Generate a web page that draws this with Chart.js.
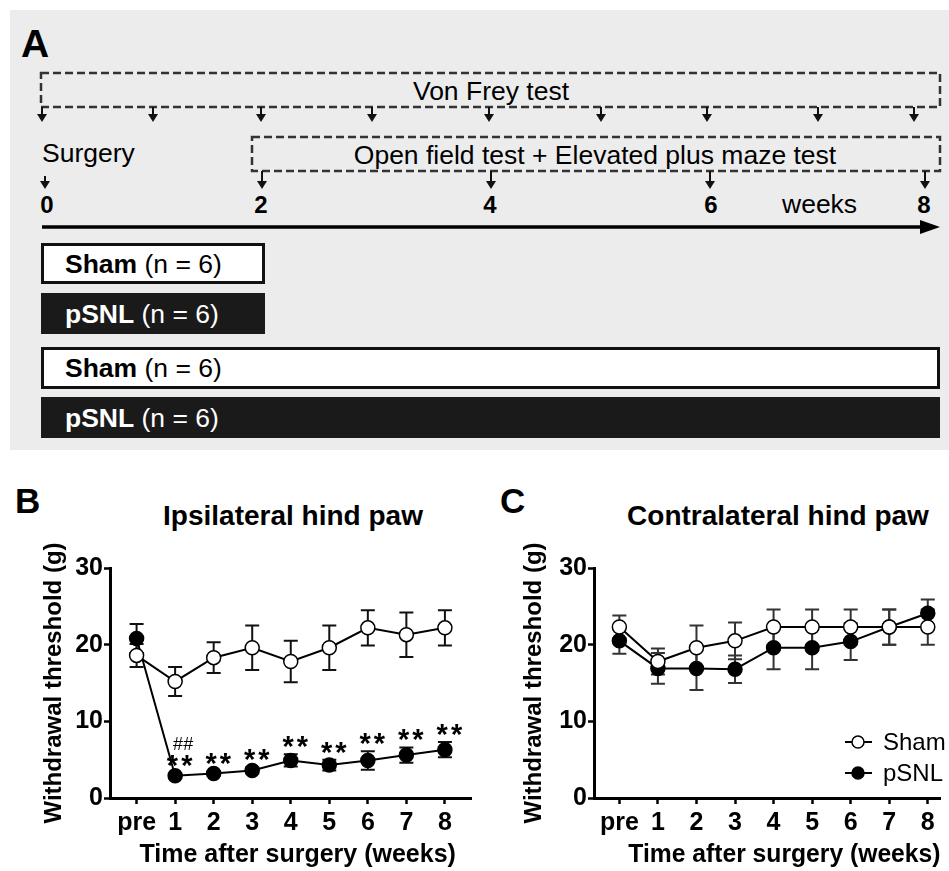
<!DOCTYPE html>
<html>
<head>
<meta charset="utf-8">
<script src="https://cdn.jsdelivr.net/npm/chart.js@4.4.1/dist/chart.umd.min.js"></script>
<style>
body{margin:0;background:#fff;}
#fig{position:relative;width:949px;height:871px;overflow:hidden;}
canvas{position:absolute;}
</style>
</head>
<body>
<div id="fig">
<svg id="art" width="949" height="871" style="position:absolute;left:0;top:0" font-family="Liberation Sans, Arial, sans-serif">
  <rect x="10" y="10" width="939" height="440" fill="#ececec"/>
  <text x="21" y="57" font-size="39" font-weight="bold">A</text>

  <rect x="41" y="73" width="899" height="34" fill="none" stroke="#333" stroke-width="2.5" stroke-dasharray="8 4"/>
  <text x="491" y="100" font-size="26.5" text-anchor="middle">Von Frey test</text>
  <g id="vfArrows"></g>

  <text x="42" y="162" font-size="26.5">Surgery</text>
  <rect x="252" y="137" width="688" height="34" fill="none" stroke="#333" stroke-width="2.5" stroke-dasharray="8 4"/>
  <text x="595" y="164" font-size="26.5" text-anchor="middle">Open field test + Elevated plus maze test</text>
  <g id="ofArrows"></g>

  <g font-size="24" font-weight="bold" text-anchor="middle">
    <text x="47" y="213">0</text>
    <text x="261" y="213">2</text>
    <text x="490" y="213">4</text>
    <text x="711" y="213">6</text>
    <text x="924" y="213">8</text>
  </g>
  <text x="782" y="213" font-size="26.5">weeks</text>
  <line x1="42" y1="227" x2="922" y2="227" stroke="#000" stroke-width="3.5"/>
  <polygon points="920,220 940,227 920,234" fill="#000"/>

  <rect x="42.5" y="244.5" width="221" height="38" fill="#fff" stroke="#111" stroke-width="3"/>
  <text x="65" y="273" font-size="26.5"><tspan font-weight="bold">Sham</tspan> (n = 6)</text>
  <rect x="41" y="293" width="224" height="41" fill="#1a1a1a"/>
  <text x="65" y="323" font-size="26.5" fill="#fff"><tspan font-weight="bold">pSNL</tspan> (n = 6)</text>
  <rect x="42.5" y="348.5" width="896" height="39" fill="#fff" stroke="#111" stroke-width="3"/>
  <text x="65" y="377" font-size="26.5"><tspan font-weight="bold">Sham</tspan> (n = 6)</text>
  <rect x="41" y="397" width="899" height="41" fill="#1a1a1a"/>
  <text x="65" y="427" font-size="26.5" fill="#fff"><tspan font-weight="bold">pSNL</tspan> (n = 6)</text>

  <text x="15" y="513" font-size="35" font-weight="bold">B</text>
  <text x="293" y="525" font-size="28" font-weight="bold" text-anchor="middle">Ipsilateral hind paw</text>
  <text x="500" y="513" font-size="35" font-weight="bold">C</text>
  <text x="778" y="525" font-size="28" font-weight="bold" text-anchor="middle">Contralateral hind paw</text>
</svg>
<canvas id="ipsi" style="left:0;top:540px" width="480" height="331"></canvas>
<canvas id="contra" style="left:480px;top:540px" width="469" height="331"></canvas>
</div>

<script>
// x positions of the weekly test arrows in the schematic
const vonFreyX=[42,153,261,372,489,601,707,818,914];
const openFieldX=[262,491,710,925];

const weekLabels=['pre','1','2','3','4','5','6','7','8'];
const weekPos=[0,1,2,3,4,5,6,7,8];
const yTicks=[0,10,20,30];

// panel B - ipsilateral
const ipsiSham=[18.6,15.2,18.3,19.6,17.8,19.6,22.2,21.3,22.2];
const ipsiShamErr=[1.5,1.9,2.0,2.9,2.7,2.9,2.3,2.9,2.3];
const ipsiPsnl=[20.8,2.9,3.2,3.6,4.9,4.3,4.9,5.6,6.3];
const ipsiPsnlErr=[1.9,0.3,0.3,0.4,0.8,0.7,1.2,1.0,1.0];
const ipsiStars=['','**','**','**','**','**','**','**','**'];
const ipsiHash=['','##','','','','','','',''];

// panel C - contralateral
const contraSham=[22.3,17.8,19.6,20.5,22.3,22.3,22.3,22.3,22.3];
const contraShamErr=[1.5,1.7,2.9,2.4,2.3,2.3,2.3,2.3,2.3];
const contraPsnl=[20.5,16.9,16.9,16.8,19.6,19.6,20.4,22.3,24.1];
const contraPsnlErr=[1.7,2.0,2.8,1.8,2.8,2.8,2.4,2.3,1.8];

const FONT='"Liberation Sans", Arial, sans-serif';

function arrows(g,xs,y1,y2){
let s='';
xs.forEach(x=>{
s+=`<line x1="${x}" y1="${y1}" x2="${x}" y2="${y2-5}" stroke="#111" stroke-width="2"/>`;
s+=`<polygon points="${x-5},${y2-8} ${x+5},${y2-8} ${x},${y2}" fill="#111"/>`;
});
document.getElementById(g).innerHTML=s;
}
arrows('vfArrows',vonFreyX,107,122);
arrows('ofArrows',openFieldX,171,189);
document.getElementById('art').insertAdjacentHTML('beforeend',
'<line x1="45" y1="176" x2="45" y2="184" stroke="#111" stroke-width="2"/><polygon points="40,181 50,181 45,189" fill="#111"/>');

function pts(vals){
return vals.map((v,i)=>({x:weekPos[i],y:v}));
}

const errorBars={
id:'errorBars',
beforeDatasetsDraw(chart,args,opts){
const {ctx,scales:{x,y}}=chart;
ctx.save();
ctx.strokeStyle=opts.color;
ctx.lineWidth=2;
chart.data.datasets.forEach((ds,di)=>{
const errs=opts.errors[di];
ds.data.forEach((p,i)=>{
const px=x.getPixelForValue(p.x);
const top=y.getPixelForValue(p.y+errs[i]);
const bot=y.getPixelForValue(p.y-errs[i]);
ctx.beginPath();
ctx.moveTo(px,top);ctx.lineTo(px,bot);
ctx.moveTo(px-7,top);ctx.lineTo(px+7,top);
ctx.moveTo(px-7,bot);ctx.lineTo(px+7,bot);
ctx.stroke();
});
});
ctx.restore();
}
};

const marks={
id:'marks',
afterDatasetsDraw(chart,args,opts){
if(!opts.stars) return;
const {ctx,scales:{x,y}}=chart;
ctx.save();
ctx.fillStyle='#000';
ctx.textAlign='center';
ctx.textBaseline='alphabetic';
opts.values.forEach((v,i)=>{
const px=x.getPixelForValue(weekPos[i])+6;
const top=y.getPixelForValue(v+opts.errors[i]);
ctx.font='bold 29px '+FONT;
ctx.letterSpacing='3px';
ctx.fillText(opts.stars[i],px,top+2);
ctx.font='18px '+FONT;
ctx.letterSpacing='0px';
ctx.fillText(opts.hash[i],px+2,top-23);
});
ctx.restore();
}
};

const boxLegend={
id:'boxLegend',
afterDraw(chart,args,opts){
if(!opts.items) return;
const ctx=chart.ctx;
ctx.save();
opts.items.forEach((it,i)=>{
const cy=opts.y+i*opts.gap;
ctx.strokeStyle='#000';
ctx.lineWidth=2;
ctx.beginPath();
ctx.moveTo(opts.x-13,cy);ctx.lineTo(opts.x+14,cy);
ctx.stroke();
ctx.beginPath();
ctx.arc(opts.x,cy,6,0,Math.PI*2);
ctx.fillStyle=it.fill;
ctx.fill();
ctx.lineWidth=1.5;
ctx.stroke();
ctx.fillStyle='#000';
ctx.font='24px '+FONT;
ctx.textBaseline='middle';
ctx.fillText(it.label,opts.x+25,cy+1);
});
ctx.restore();
}
};

function makeChart(id,sham,shamErr,psnl,psnlErr,cfg){
const bold=s=>({family:FONT,size:s,weight:'bold'});
return new Chart(document.getElementById(id),{
type:'line',
data:{
datasets:[
{label:'Sham',data:pts(sham),borderColor:'#000',borderWidth:2,pointRadius:7,pointHoverRadius:7,pointBackgroundColor:'#fff',pointBorderColor:'#000',pointBorderWidth:1.5,tension:0},
{label:'pSNL',data:pts(psnl),borderColor:'#000',borderWidth:2,pointRadius:7,pointHoverRadius:7,pointBackgroundColor:'#000',pointBorderColor:'#000',pointBorderWidth:1.5,tension:0}
]
},
options:{
responsive:false,
animation:false,
events:[],
layout:{padding:{left:0,right:cfg.padRight,top:28,bottom:0}},
plugins:{
legend:{display:false},
tooltip:{enabled:false},
errorBars:{errors:[shamErr,psnlErr],color:cfg.errColor},
marks:cfg.marks||{},
boxLegend:cfg.legend||{}
},
scales:{
x:{
type:'linear',
min:cfg.xMin,
max:cfg.xMax,
afterBuildTicks:s=>{s.ticks=weekPos.map(v=>({value:v}));},
afterFit:s=>{s.height=73;},
ticks:{callback:(v,i)=>weekLabels[i],font:bold(25),color:'#000',padding:4,maxRotation:0,autoSkip:false},
grid:{display:true,drawOnChartArea:false,tickLength:6,tickWidth:2.5,tickColor:'#000'},
border:{display:true,width:3,color:'#000'},
title:{display:true,text:cfg.xTitle,font:bold(25),color:'#000',padding:{top:0,bottom:1}}
},
y:{
min:0,
max:30,
afterBuildTicks:s=>{s.ticks=yTicks.map(v=>({value:v}));},
afterFit:s=>{s.width=cfg.yWidth;},
ticks:{font:bold(25),color:'#000',padding:1},
grid:{display:true,drawOnChartArea:false,tickLength:6,tickWidth:2.5,tickColor:'#000'},
border:{display:true,width:3,color:'#000'},
title:{display:true,text:'Withdrawal threshold (g)',font:bold(24),color:'#000',padding:{top:40,bottom:0}}
}
}
},
plugins:[errorBars,marks,boxLegend]
});
}

makeChart('ipsi',ipsiSham,ipsiShamErr,ipsiPsnl,ipsiPsnlErr,{
yWidth:110,padRight:3,xMin:-0.69,xMax:8.69,errColor:'#111',
xTitle:'  Time after surgery (weeks)',
marks:{values:ipsiPsnl,errors:ipsiPsnlErr,stars:ipsiStars,hash:ipsiHash}
});

// the right edge of panel C is cut off, so its axis title sits right of centre
makeChart('contra',contraSham,contraShamErr,contraPsnl,contraPsnlErr,{
yWidth:114,padRight:0,xMin:-0.658,xMax:8.33,errColor:'#333',
xTitle:'     Time after surgery (weeks)',
legend:{x:378,y:202,gap:31,items:[{label:'Sham',fill:'#fff'},{label:'pSNL',fill:'#000'}]}
});
</script>
</body>
</html>
